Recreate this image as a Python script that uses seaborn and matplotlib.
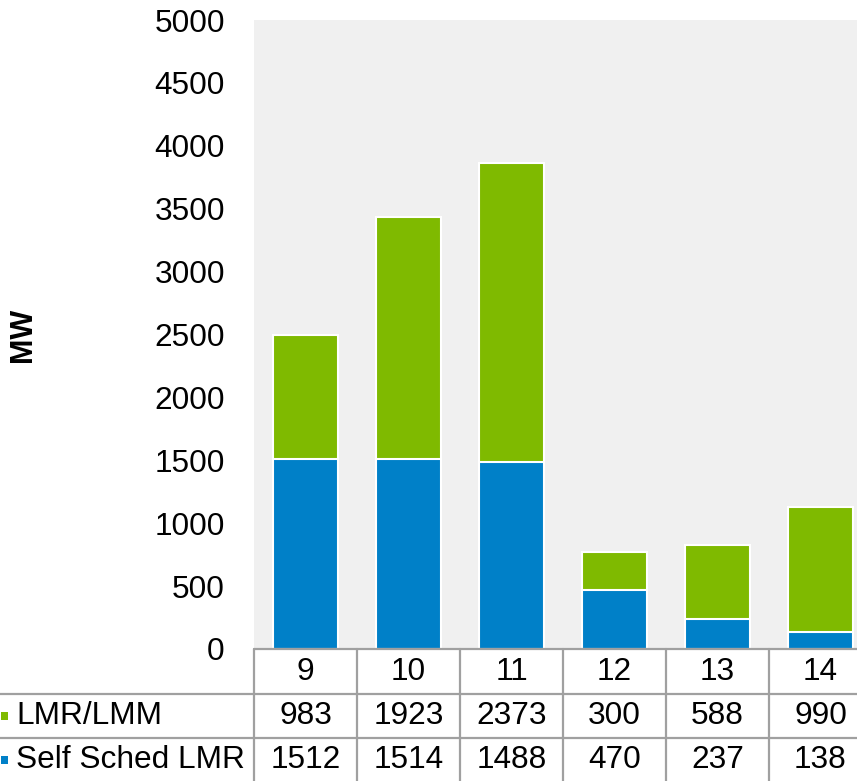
import matplotlib
matplotlib.use("Agg")
import matplotlib.pyplot as plt
import seaborn as sns
import pandas as pd
from matplotlib.lines import Line2D
from matplotlib.patches import Rectangle

categories = ["9", "10", "11", "12", "13", "14"]
lmr_lmm = [983, 1923, 2373, 300, 588, 990]
self_sched = [1512, 1514, 1488, 470, 237, 138]
series_names = ["LMR/LMM", "Self Sched LMR"]
y_ticks = [0, 500, 1000, 1500, 2000, 2500, 3000, 3500, 4000, 4500, 5000]

GREEN = "#7fba00"
BLUE = "#0080c8"
GRID = "#a0a0a0"
FS = 22.8

sns.set_theme(style="white")
plt.rcParams["font.family"] = ["Liberation Sans", "DejaVu Sans"]
plt.rcParams["text.color"] = "black"
plt.rcParams["ytick.color"] = "black"

W, H = 857, 781
fig = plt.figure(figsize=(W / 100, H / 100), dpi=100)

# axes in pixel coords
px_left, px_right, px_top, px_bottom = 254, 872, 20, 649
ax = fig.add_axes([px_left / W, 1 - px_bottom / H, (px_right - px_left) / W, (px_bottom - px_top) / H])
ax.set_facecolor("#f0f0f0")

df = pd.DataFrame({
    "cat": categories,
    "total": [a + b for a, b in zip(lmr_lmm, self_sched)],
    "self": self_sched,
})

sns.barplot(data=df, x="cat", y="total", color=GREEN, saturation=1, width=0.64,
            edgecolor="white", linewidth=1.5, ax=ax, order=categories)
sns.barplot(data=df, x="cat", y="self", color=BLUE, saturation=1, width=0.64,
            edgecolor="white", linewidth=1.5, ax=ax, order=categories)

ax.set_xlim(-0.5, 5.5)
ax.set_ylim(0, 5000)
ax.set_yticks(y_ticks)
ax.set_yticklabels([str(t) for t in y_ticks], fontsize=FS, color="black")
ax.tick_params(axis="y", length=0, pad=21)
ax.set_xticks([])
ax.set_xlabel("")
ax.set_ylabel("")
for s in ax.spines.values():
    s.set_visible(False)

fig.text(23 / W, 1 - 335 / H, "MW", rotation=90, fontsize=22, fontweight="bold",
         ha="center", va="center")

# table
def fy(py):
    return 1 - py / H

def fx(px):
    return px / W

col_w = (px_right - px_left) / 6
row_lines = [649, 694, 738]
lw = 1.6
fig.add_artist(Line2D([fx(px_left), fx(px_right)], [fy(649), fy(649)], color=GRID, lw=lw))
for y in row_lines[1:]:
    fig.add_artist(Line2D([0, fx(px_right)], [fy(y), fy(y)], color=GRID, lw=lw))
for i in range(7):
    x = px_left + i * col_w
    fig.add_artist(Line2D([fx(x), fx(x)], [fy(649), fy(H + 2)], color=GRID, lw=lw))

row_centers = [672, 716, 760]
for i, c in enumerate(categories):
    xc = px_left + (i + 0.5) * col_w
    fig.text(fx(xc), fy(row_centers[0]), c, ha="center", va="center", fontsize=FS)
    fig.text(fx(xc), fy(row_centers[1]), str(lmr_lmm[i]), ha="center", va="center", fontsize=FS)
    fig.text(fx(xc), fy(row_centers[2]), str(self_sched[i]), ha="center", va="center", fontsize=FS)

for name, col, yc in zip(series_names, [GREEN, BLUE], row_centers[1:]):
    fig.add_artist(Rectangle((fx(1), fy(yc + 4)), 7 / W, 8 / H, facecolor=col, edgecolor="none"))
    fig.text(fx(16), fy(yc), name, ha="left", va="center", fontsize=FS)

fig.savefig("out.png", dpi=100)
